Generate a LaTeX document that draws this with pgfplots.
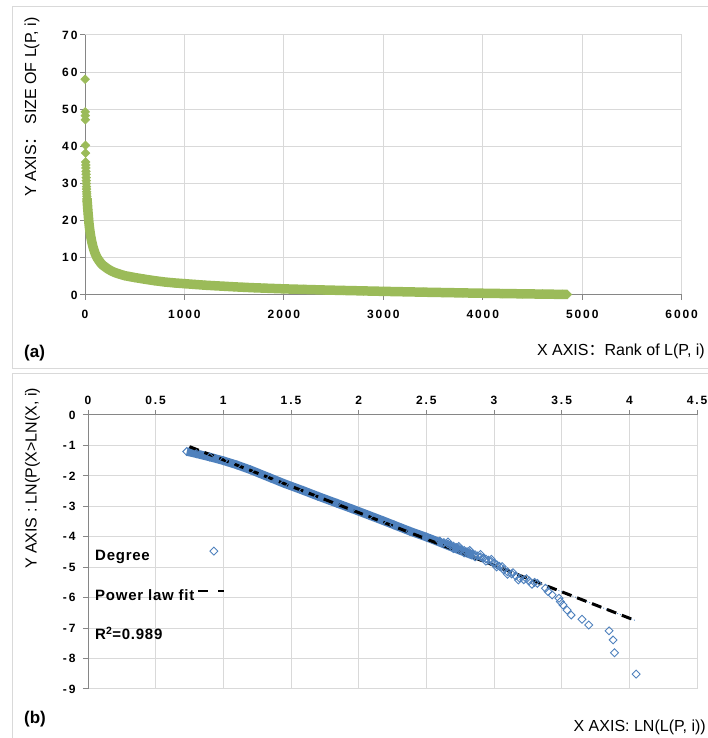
\documentclass[border=0pt]{standalone}
\usepackage{pgfplots}
\pgfplotsset{compat=1.18}
\usepackage{pgfplotstable}
\usepackage{fontspec}
\setmainfont{Liberation Sans}
\newfontfamily\cjk{Noto Sans CJK SC}
\newfontfamily\tickfont[LetterSpace=16]{Liberation Sans}
\newfontfamily\legfont[LetterSpace=5]{Liberation Sans}

\definecolor{agreen}{HTML}{9BBB59}
\definecolor{bblue}{HTML}{4F81BD}
\definecolor{gridgray}{HTML}{D9D9D9}
\definecolor{axgray}{HTML}{868686}

% (a) size of L(P,i) against its rank
\pgfplotstableread{
rank size
1 58.1
2 49.3
3 48.3
4 47.2
5 40.3
6 38.2
7 35.8
8 35.0
9 34.2
10 33.3
11 32.5
12 31.6
13 30.8
14 30.0
15 29.2
16 28.5
17 27.8
18 27.2
19 26.6
20 26.0
22 25.2
25 24.2
28 23.0
32 21.8
36 20.5
40 19.3
45 18.1
50 17.1
55 16.2
60 15.4
70 14.1
80 13.0
90 12.1
100 11.3
110 10.7
120 10.1
135 9.5
150 8.9
165 8.4
180 8.0
200 7.6
225 7.1
250 6.7
275 6.35
300 6.05
350 5.6
400 5.2
450 4.95
500 4.7
600 4.25
700 3.85
800 3.5
900 3.25
1000 3.05
1100 2.85
1200 2.65
1300 2.5
1400 2.35
1500 2.2
1600 2.07
1700 1.95
1800 1.85
1900 1.75
2000 1.65
2200 1.5
2400 1.35
2600 1.22
2800 1.1
3000 0.98
3200 0.87
3400 0.76
3600 0.66
3800 0.56
4000 0.47
4200 0.39
4400 0.31
4600 0.24
4800 0.17
4850 0.15
}\sizerank

% (b) dense part of the degree band
\pgfplotstableread{
lnx lnp
0.73 -1.20
0.80 -1.27
0.90 -1.38
1.00 -1.50
1.10 -1.64
1.20 -1.80
1.35 -2.07
1.45 -2.25
1.59 -2.48
1.70 -2.67
1.84 -2.90
1.95 -3.08
2.08 -3.30
2.18 -3.47
2.26 -3.61
2.38 -3.82
2.50 -4.01
2.62 -4.22
2.75 -4.45
2.85 -4.62
}\bband

% (b) single points of the tail
\pgfplotstableread{
lnx lnp
2.60 -4.14
2.63 -4.19
2.66 -4.24
2.68 -4.28
2.70 -4.31
2.72 -4.35
2.74 -4.38
2.76 -4.42
2.78 -4.45
2.80 -4.49
2.82 -4.52
2.84 -4.56
2.86 -4.59
2.88 -4.63
2.90 -4.66
2.92 -4.70
2.94 -4.73
2.96 -4.77
2.98 -4.81
3.00 -4.86
3.02 -4.92
3.04 -4.97
3.07 -5.08
3.10 -5.15
3.13 -5.22
3.16 -5.29
3.19 -5.36
3.22 -5.41
3.26 -5.45
3.30 -5.50
3.32 -5.53
3.38 -5.69
3.40 -5.80
3.43 -5.91
3.48 -6.02
3.49 -6.13
3.51 -6.24
3.54 -6.41
3.57 -6.57
3.65 -6.71
3.70 -6.90
3.85 -7.09
3.88 -7.39
3.89 -7.81
4.05 -8.51
2.66 -4.17
2.70 -4.39
2.74 -4.32
2.78 -4.53
2.82 -4.45
2.86 -4.66
2.90 -4.58
2.94 -4.80
2.98 -4.74
3.02 -4.99
3.06 -4.98
3.10 -5.23
3.14 -5.18
3.18 -5.42
3.24 -5.38
3.28 -5.56
}\btail

\begin{document}
\begin{tikzpicture}
\useasboundingbox (0pt,0pt) rectangle (707pt,738pt);
% panel frames
\draw[gridgray, line width=1pt] (720pt,731pt) -- (12pt,731pt) -- (12pt,369pt) -- (720pt,369pt);
\draw[gridgray, line width=1pt] (720pt,364.7pt) -- (12pt,364.7pt) -- (12pt,-10pt);

%% ---------------- panel (a)
\begin{axis}[
  at={(85pt,443pt)}, anchor=south west,
  scale only axis, width=596.7pt, height=260pt,
  xmin=0, xmax=6000, ymin=0, ymax=70,
  xtick={0,1000,2000,3000,4000,5000,6000},
  xticklabels={0,1000,2000,3000,4000,5000,6000},
  ytick={0,10,20,30,40,50,60,70},
  yticklabels={0,10,20,30,40,50,60,70},
  axis lines*=left,
  axis line style={axgray, line width=1pt},
  grid=major, major grid style={gridgray, line width=1pt},
  tick align=outside, major tick length=5pt,
  tick style={axgray, line width=1pt},
  ticklabel style={font=\tickfont\bfseries\fontsize{12}{14}\selectfont},
  xticklabel style={yshift=-7pt},
  yticklabel style={xshift=1pt},
  clip=false,
]
\addplot[color=agreen, line width=9.5pt, line join=round,
  skip coords between index={0}{19}] table[x=rank, y=size] {\sizerank};
\addplot[only marks, color=agreen, mark=square*, mark size=3.1pt,
  mark options={rotate=45, line width=0.5pt}] table[x=rank, y=size] {\sizerank};
\end{axis}

\node[anchor=base west, inner sep=0, font=\bfseries\fontsize{17}{20}\selectfont] at (24pt,380pt) {(a)};
\node[anchor=base east, inner sep=0, font=\fontsize{16}{19}\selectfont] at (705pt,382pt) {X AXIS{\cjk ：}Rank of L(P, i)};
\node[rotate=90, anchor=base, inner sep=0, font=\fontsize{16}{19}\selectfont] at (36pt,631pt) {Y AXIS{\cjk ：} SIZE OF L(P, i)};

%% ---------------- panel (b)
\begin{axis}[
  at={(88pt,49pt)}, anchor=south west,
  scale only axis, width=609pt, height=274pt,
  xmin=0, xmax=4.5, ymin=-9, ymax=0,
  xtick={0,0.5,1,1.5,2,2.5,3,3.5,4,4.5},
  xticklabels={0,0.5,1,1.5,2,2.5,3,3.5,4,4.5},
  ytick={-9,-8,-7,-6,-5,-4,-3,-2,-1,0},
  yticklabels={-9,-8,-7,-6,-5,-4,-3,-2,-1,0},
  axis x line*=top, axis y line*=left,
  axis line style={axgray, line width=1pt},
  grid=major, major grid style={gridgray, line width=1pt},
  tick align=outside, major tick length=5pt,
  tick style={axgray, line width=1pt},
  ticklabel style={font=\tickfont\bfseries\fontsize{12}{14}\selectfont},
  xticklabel style={yshift=2pt},
  yticklabel style={xshift=-4pt},
  clip=false,
]
\addplot[color=bblue, line width=8.5pt, line join=round] table[x=lnx, y=lnp] {\bband};
\addplot[only marks, color=bblue, mark=square, mark size=2.8pt,
  mark options={rotate=45, line width=0.9pt, fill=none}] table[x=lnx, y=lnp] {\bband};
\addplot[only marks, color=bblue, mark=square, mark size=2.8pt,
  mark options={rotate=45, line width=0.9pt, fill=none}] table[x=lnx, y=lnp] {\btail};
% power law fit
\addplot[color=bblue, line width=0.8pt, dash pattern=on 1pt off 2pt] coordinates {(0.75,-1.04) (4.05,-6.76)};
\addplot[color=black, line width=3pt, dash pattern=on 10pt off 6pt] coordinates {(0.75,-1.04) (4.05,-6.76)};
% legend keys
\addplot[only marks, color=bblue, mark=square, mark size=2.8pt,
  mark options={rotate=45, line width=0.9pt, fill=none}] coordinates {(0.93,-4.47)};
\addplot[color=black, line width=2.5pt, dash pattern=on 10pt off 10pt] coordinates {(0.813,-5.78) (1.005,-5.78)};
\end{axis}

\node[anchor=base west, inner sep=0, font=\legfont\bfseries\fontsize{15}{18}\selectfont] at (95pt,177pt) {Degree};
\node[anchor=base west, inner sep=0, font=\legfont\bfseries\fontsize{15}{18}\selectfont] at (95pt,137.3pt) {Power law fit};
\node[anchor=base west, inner sep=0, font=\legfont\bfseries\fontsize{15}{18}\selectfont] at (95pt,98.7pt) {R\textsuperscript{2}=0.989};

\node[anchor=base west, inner sep=0, font=\bfseries\fontsize{17}{20}\selectfont] at (24pt,14.5pt) {(b)};
\node[anchor=base east, inner sep=0, font=\fontsize{16}{19}\selectfont] at (706pt,6.3pt) {X AXIS: LN(L(P, i))};
\node[rotate=90, anchor=base, inner sep=0, font=\fontsize{16}{19}\selectfont] at (36.5pt,259.5pt) {Y AXIS : LN(P(X>LN(X, i)};
\end{tikzpicture}
\end{document}
